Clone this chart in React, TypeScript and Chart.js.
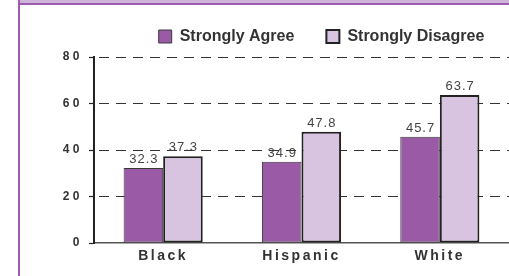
import React, { useEffect, useRef } from 'react';
import { Chart, registerables } from 'chart.js';

Chart.register(...registerables);

const categories = ['Black', 'Hispanic', 'White'];
const stronglyAgree = [32.3, 34.9, 45.7];
const stronglyDisagree = [37.3, 47.8, 63.7];
const seriesNames = ['Strongly Agree', 'Strongly Disagree'];
const yMin = 0;
const yMax = 80;
const yStep = 20;

const FONT = '"Liberation Sans", Arial, sans-serif';
const SPACING: Record<string, string> = { x: '2.5px', y: '3.5px' };

const spacingPlugin = {
  id: 'tickSpacing',
  beforeDraw(chart: any) {
    for (const s of Object.values(chart.scales) as any[]) {
      if (s._spacingWrapped) continue;
      const orig = s.drawLabels.bind(s);
      s.drawLabels = (ca: any) => {
        const c = chart.ctx;
        c.save();
        c.letterSpacing = SPACING[s.id] ?? '0px';
        orig(ca);
        c.restore();
      };
      s._spacingWrapped = true;
    }
  },
};

const valueLabels = {
  id: 'valueLabels',
  afterDatasetsDraw(chart: any) {
    const ctx = chart.ctx;
    ctx.save();
    ctx.font = `13px ${FONT}`;
    ctx.fillStyle = '#444';
    ctx.textAlign = 'center';
    ctx.textBaseline = 'alphabetic';
    ctx.letterSpacing = '1px';
    chart.data.datasets.forEach((ds: any, i: number) => {
      const meta = chart.getDatasetMeta(i);
      meta.data.forEach((el: any, j: number) => {
        ctx.fillText(Number(ds.data[j]).toFixed(1), el.x + 0.5, el.y - 5);
      });
    });
    ctx.restore();
  },
};

export default function App() {
  const ref = useRef<HTMLCanvasElement | null>(null);

  useEffect(() => {
    if (!ref.current) return;
    const chart = new Chart(ref.current, {
      type: 'bar',
      data: {
        labels: categories,
        datasets: [
          {
            label: seriesNames[0],
            data: stronglyAgree,
            backgroundColor: '#9b5aa5',
            borderColor: '#3a3a3a',
            borderWidth: 1,
            borderSkipped: false,
            categoryPercentage: 0.572,
            barPercentage: 1,
          },
          {
            label: seriesNames[1],
            data: stronglyDisagree,
            backgroundColor: '#d8c4e0',
            borderColor: '#222',
            borderWidth: 2,
            borderSkipped: false,
            categoryPercentage: 0.572,
            barPercentage: 1,
          },
        ],
      },
      options: {
        animation: false,
        responsive: false,
        maintainAspectRatio: false,
        devicePixelRatio: 1,
        layout: { padding: { left: 0, right: 0, top: -3.5, bottom: 0 } },
        plugins: {
          legend: {
            display: true,
            position: 'top',
            labels: {
              boxWidth: 13,
              boxHeight: 13,
              padding: 32,
              color: '#333',
              font: { family: FONT, size: 16, weight: 'bold' },
            },
          },
          tooltip: { enabled: false },
        },
        scales: {
          x: {
            type: 'category',
            position: 'bottom',
            grid: { display: false, drawTicks: false },
            border: { display: true, color: '#555', width: 1.5 },
            ticks: {
              color: '#333',
              padding: 5,
              font: { family: FONT, size: 14, weight: 'bold' },
            },
            afterFit: (s: any) => {
              s.height = 33;
            },
          },
          y: {
            type: 'linear',
            position: 'left',
            min: yMin,
            max: yMax,
            ticks: {
              stepSize: yStep,
              color: '#333',
              padding: 6,
              font: { family: FONT, size: 12, weight: 'bold' },
            },
            grid: {
              color: (c: any) => (c.tick && c.tick.value === 0 ? 'rgba(0,0,0,0)' : '#333'),
              lineWidth: 1,
              drawTicks: true,
              tickLength: 5,
              tickColor: '#222',
              tickWidth: 1.2,
            },
            border: { display: true, color: '#222', width: 2, dash: [10, 7], dashOffset: 13 },
            afterFit: (s: any) => {
              s.width = 94;
            },
          },
          topSpace: {
            type: 'linear',
            position: 'top',
            display: true,
            grid: { display: false },
            border: { display: false },
            ticks: { display: false },
            afterFit: (s: any) => {
              s.height = 2.5;
            },
          },
          rightSpace: {
            type: 'linear',
            position: 'right',
            display: true,
            grid: { display: false },
            border: { display: false },
            ticks: { display: false },
            afterFit: (s: any) => {
              s.width = 134;
            },
          },
        },
      } as any,
      plugins: [spacingPlugin, valueLabels],
    });
    return () => chart.destroy();
  }, []);

  return (
    <div
      style={{
        position: 'absolute',
        left: 0,
        top: 0,
        width: 509,
        height: 276,
        overflow: 'hidden',
        background: '#fff',
      }}
    >
      <div style={{ position: 'absolute', left: 20, top: 0, width: 489, height: 3, background: '#cdb4d8' }} />
      <div style={{ position: 'absolute', left: 18, top: 3, width: 491, height: 2, background: '#9e5aae' }} />
      <div style={{ position: 'absolute', left: 18, top: 0, width: 2, height: 276, background: '#9e5aae' }} />
      <canvas
        ref={ref}
        width={643}
        height={276}
        style={{ position: 'absolute', left: 0, top: 0, width: 643, height: 276 }}
      />
    </div>
  );
}
